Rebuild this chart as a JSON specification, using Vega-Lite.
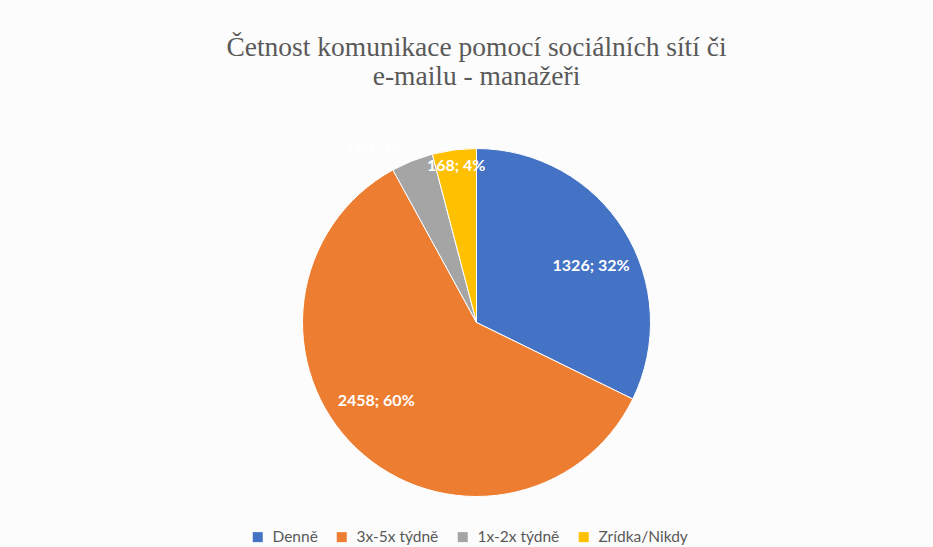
{
  "$schema": "https://vega.github.io/schema/vega-lite/v6.json",
  "width": 933,
  "height": 547,
  "autosize": {"type": "fit", "contains": "padding"},
  "padding": {"left": 20, "top": 33, "right": 0, "bottom": 0},
  "background": "#fcfcfc",
  "title": {
    "text": ["Četnost komunikace pomocí sociálních sítí či", "e-mailu - manažeři"],
    "font": "Liberation Serif",
    "fontSize": 27.5,
    "fontWeight": "normal",
    "color": "#595959",
    "lineHeight": 29,
    "anchor": "middle",
    "frame": "group",
    "offset": 8
  },
  "config": {"view": {"stroke": null}},
  "data": {
    "values": [
      {"kategorie": "Denně", "pocet": 1326, "poradi": 1},
      {"kategorie": "3x-5x týdně", "pocet": 2458, "poradi": 2},
      {"kategorie": "1x-2x týdně", "pocet": 160, "poradi": 3},
      {"kategorie": "Zrídka/Nikdy", "pocet": 168, "poradi": 4}
    ]
  },
  "transform": [
    {"joinaggregate": [{"op": "sum", "field": "pocet", "as": "celkem"}]},
    {"calculate": "datum.pocet + '; ' + format(datum.pocet / datum.celkem, '.0%')", "as": "popisek"}
  ],
  "encoding": {
    "theta": {"field": "pocet", "type": "quantitative", "stack": true},
    "order": {"field": "poradi", "type": "quantitative"}
  },
  "layer": [
    {
      "mark": {"type": "arc", "outerRadius": 174, "stroke": "#ffffff", "strokeWidth": 1},
      "encoding": {
        "color": {
          "field": "kategorie",
          "type": "nominal",
          "scale": {
            "domain": ["Denně", "3x-5x týdně", "1x-2x týdně", "Zrídka/Nikdy"],
            "range": ["#4472C4", "#ED7D31", "#A5A5A5", "#FFC000"]
          },
          "legend": {
            "title": null,
            "orient": "none",
            "direction": "horizontal",
            "legendX": 230,
            "legendY": 431,
            "symbolType": "square",
            "symbolSize": 100,
            "symbolStrokeWidth": 0,
            "labelFont": "Lato",
            "labelFontSize": 15.5,
            "labelColor": "#595959",
            "labelOffset": 7,
            "columnPadding": 16
          }
        }
      }
    },
    {
      "mark": {
        "type": "text",
        "radius": 135,
        "font": "Lato",
        "fontSize": 16,
        "fontWeight": "bold",
        "color": "#ffffff",
        "align": "center",
        "baseline": "middle",
        "dx": {"expr": "datum.kategorie === 'Denně' ? 0 : datum.kategorie === '3x-5x týdně' ? -7 : datum.kategorie === 'Zrídka/Nikdy' ? -3 : -52"},
        "dy": {"expr": "datum.kategorie === 'Denně' ? 15 : datum.kategorie === '3x-5x týdně' ? -19 : datum.kategorie === 'Zrídka/Nikdy' ? -23 : -49"}
      },
      "encoding": {
        "detail": {"field": "kategorie", "type": "nominal"},
        "text": {"field": "popisek", "type": "nominal"}
      }
    }
  ]
}
